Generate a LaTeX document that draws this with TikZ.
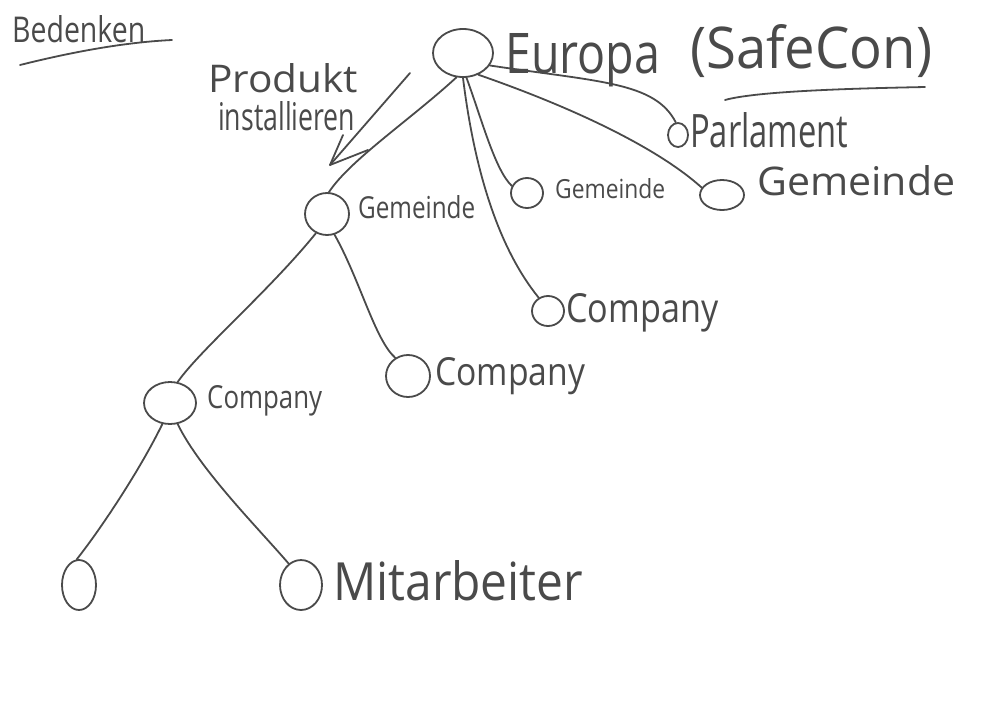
\documentclass[tikz,border=0pt]{standalone}
\usepackage{fontspec}
\setmainfont{Open Sans}
\usetikzlibrary{shapes.geometric}
\definecolor{ink}{HTML}{4A4A4A}
\newcommand\hw[3]{\resizebox{#1pt}{#2pt}{#3}}
\begin{document}
\begin{tikzpicture}[x=1pt,y=-1pt,
  ring/.style={draw=ink, ellipse, inner sep=0pt, line width=1.8pt},
  lab/.style={anchor=base west, inner sep=0pt, text=ink},
  edge/.style={draw=ink, line width=1.8pt, line cap=round}]
\fill[white] (0,0) rectangle (1000,707);
\useasboundingbox (0,0) rectangle (1000,707);

% circles
\node[ring, minimum width=60pt, minimum height=48pt] (E) at (463,53) {};
\node[ring, minimum width=20pt, minimum height=24pt] (P) at (678,135) {};
\node[ring, minimum width=44pt, minimum height=30pt] (GR) at (722,195) {};
\node[ring, minimum width=32pt, minimum height=30pt] (GM) at (527,193) {};
\node[ring, minimum width=44pt, minimum height=42pt] (GL) at (327,214) {};
\node[ring, minimum width=32pt, minimum height=30pt] (CM) at (548,311) {};
\node[ring, minimum width=44pt, minimum height=42pt] (CC) at (408,376) {};
\node[ring, minimum width=52pt, minimum height=42pt] (CL) at (170,403) {};
\node[ring, minimum width=34pt, minimum height=50pt] (L0) at (79,585) {};
\node[ring, minimum width=42pt, minimum height=50pt] (MA) at (301,585) {};

% labels
\node[lab] (tBed) at (12,42) {\hw{133}{27}{Bedenken}};
\node[lab] (tEur) at (505,73) {\hw{155}{40}{Europa}};
\node[lab] (tSaf) at (690,68) {\hw{242}{44}{(SafeCon)}};
\node[lab] (tPar) at (690,147) {\hw{158}{35}{Parlament}};
\node[lab] (tGR) at (757,195) {\hw{198}{30}{Gemeinde}};
\node[lab] (tGM) at (555,198) {\hw{110}{20}{Gemeinde}};
\node[lab] (tGL) at (358,218) {\hw{117}{23}{Gemeinde}};
\node[lab] (tCM) at (566,322) {\hw{152}{29}{Company}};
\node[lab] (tCC) at (435,385) {\hw{150}{28}{Company}};
\node[lab] (tCL) at (207,408) {\hw{115}{23}{Company}};
\node[lab] (tMA) at (333,600) {\hw{250}{40}{Mitarbeiter}};
\node[lab] (tPro) at (208,92) {\hw{150}{29}{Produkt}};
\node[lab] (tIns) at (218,130) {\hw{137}{29}{installieren}};

% edges
\draw[edge] (E.255) .. controls (410,120) and (350,160) .. (GL.85);
\draw[edge] (E.278) .. controls (482,120) and (495,170) .. (GM.155);
\draw[edge] (E.270) .. controls (475,175) and (500,250) .. (CM.125);
\draw[edge] (E.335) .. controls (600,82) and (655,82) .. (P.100);
\draw[edge] (E.305) .. controls (580,110) and (660,150) .. (GR.160);
\draw[edge] (GL.240) .. controls (270,290) and (200,350) .. (CL.70);
\draw[edge] (GL.290) .. controls (360,280) and (375,340) .. (CC.125);
\draw[edge] (CL.250) .. controls (140,470) and (100,530) .. (L0.95);
\draw[edge] (CL.290) .. controls (200,470) and (260,530) .. (MA.120);

% arrow
\coordinate (a0) at (410,73);
\coordinate (tip) at (330,165);
\coordinate (b1) at (343,135);
\coordinate (b2) at (368,150);
\draw[edge] (a0) -- (tip);
\draw[edge, line join=round] (b1) -- (tip) -- (b2);

% underlines
\coordinate (u1) at (20,65);
\coordinate (u2) at (172,40);
\draw[edge] (u1) .. controls (80,50) and (130,42) .. (u2);
\coordinate (v1) at (725,100);
\coordinate (v2) at (925,87);
\draw[edge] (v1) .. controls (760,90) and (880,88) .. (v2);
\end{tikzpicture}
\end{document}
